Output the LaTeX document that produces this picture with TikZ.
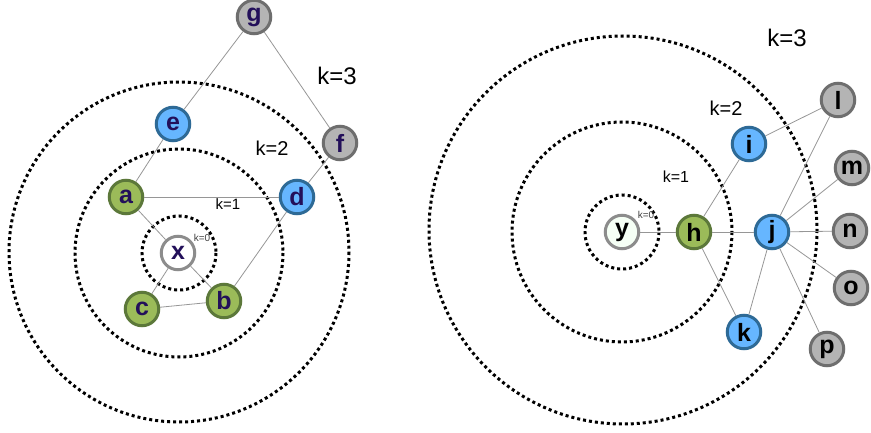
\documentclass[tikz,border=0pt]{standalone}
\usepackage{fontspec}
\setmainfont{Liberation Sans}
\usepackage{tikz}
\usepackage{xcolor}
\definecolor{verdeno}{RGB}{155, 187, 89}
\definecolor{verdeborda}{RGB}{92, 120, 58}
\definecolor{azulno}{RGB}{102, 182, 255}
\definecolor{azulborda}{RGB}{46, 106, 150}
\definecolor{cinzano}{RGB}{180, 180, 180}
\definecolor{cinzaborda}{RGB}{110, 110, 110}
\definecolor{brancoborda}{RGB}{140, 140, 140}
\definecolor{arestacor}{RGB}{150, 150, 150}
\definecolor{letraescura}{RGB}{35, 16, 90}

\begin{document}
\begin{tikzpicture}[
                x=1pt, y=-1pt,
                vert/.style={circle, line width=3pt, minimum size=33.5pt, inner sep=0pt, font=\bfseries\fontsize{25}{25}\selectfont},
                verde/.style={vert, fill=verdeno, draw=verdeborda},
                azul/.style={vert, fill=azulno, draw=azulborda},
                cinza/.style={vert, fill=cinzano, draw=cinzaborda},
                branco/.style={vert, fill=white, draw=brancoborda},
                esq/.style={text=letraescura},
                anel/.style={line width=3pt, dash pattern=on 3pt off 3pt},
                aresta/.style={draw=arestacor, line width=0.8pt},
                rotulo/.style={font=\fontsize{#1}{#1}\selectfont}
            ]
                \useasboundingbox (0,0) rectangle (871,433);

                % aneis do lado esquerdo
                \coordinate (cx) at (178,253);
                \draw[anel] (179,252) circle (170);
                \draw[anel] (179,253) circle (104);
                \draw[anel] (179,253) circle (37);

                % aneis do lado direito
                \coordinate (cy) at (622,232);
                \draw[anel] (623,230) circle (194);
                \draw[anel] (cy) circle (110);
                \draw[anel] (cy) circle (37);

                % grafo da esquerda
                \node[branco, esq] (x) at (cx) {x};
                \node[verde, esq] (a) at (126,197) {a};
                \node[verde, esq] (b) at (224,301) {b};
                \node[verde, esq] (c) at (142,309) {c};
                \node[azul, esq] (d) at (297,197) {d};
                \node[azul, esq] (e) at (173,124) {e};
                \node[cinza, esq] (f) at (340,143) {f};
                \node[cinza, esq] (g) at (254,17) {g};

                \draw[aresta] (g) -- (e);
                \draw[aresta] (g) -- (f);
                \draw[aresta] (e) -- (a);
                \draw[aresta] (a) -- (d);
                \draw[aresta] (a) -- (x);
                \draw[aresta] (x) -- (c);
                \draw[aresta] (x) -- (b);
                \draw[aresta] (c) -- (b);
                \draw[aresta] (b) -- (d);
                \draw[aresta] (d) -- (f);

                % grafo da direita
                \node[branco, fill=green!4] (y) at (cy) {y};
                \node[verde] (h) at (694,232) {h};
                \node[azul] (i) at (749,144) {i};
                \node[azul] (j) at (772,232) {j};
                \node[azul] (k) at (744,332) {k};
                \node[cinza] (l) at (838,100) {l};
                \node[cinza] (m) at (852,168) {m};
                \node[cinza] (n) at (850,231) {n};
                \node[cinza] (o) at (851,288) {o};
                \node[cinza] (p) at (827,349) {p};

                \draw[aresta] (y) -- (h);
                \draw[aresta] (h) -- (i);
                \draw[aresta] (h) -- (j);
                \draw[aresta] (h) -- (k);
                \draw[aresta] (i) -- (l);
                \draw[aresta] (j) -- (l);
                \draw[aresta] (j) -- (m);
                \draw[aresta] (j) -- (n);
                \draw[aresta] (j) -- (o);
                \draw[aresta] (j) -- (p);
                \draw[aresta] (j) -- (k);

                % rotulos k
                \node[rotulo=24] (k3e) at (337,76) {k=3};
                \node[rotulo=20] (k2e) at (272,148) {k=2};
                \node[rotulo=15] (k1e) at (228,204) {k=1};
                \node[rotulo=10, text=black!75] (k0e) at (202,238) {k=0};
                \node[rotulo=24] (k3d) at (787,38) {k=3};
                \node[rotulo=20] (k2d) at (726,108) {k=2};
                \node[rotulo=16] (k1d) at (676,177) {k=1};
                \node[rotulo=10, text=black!75] (k0d) at (646,215) {k=0};
            \end{tikzpicture}
\end{document}
